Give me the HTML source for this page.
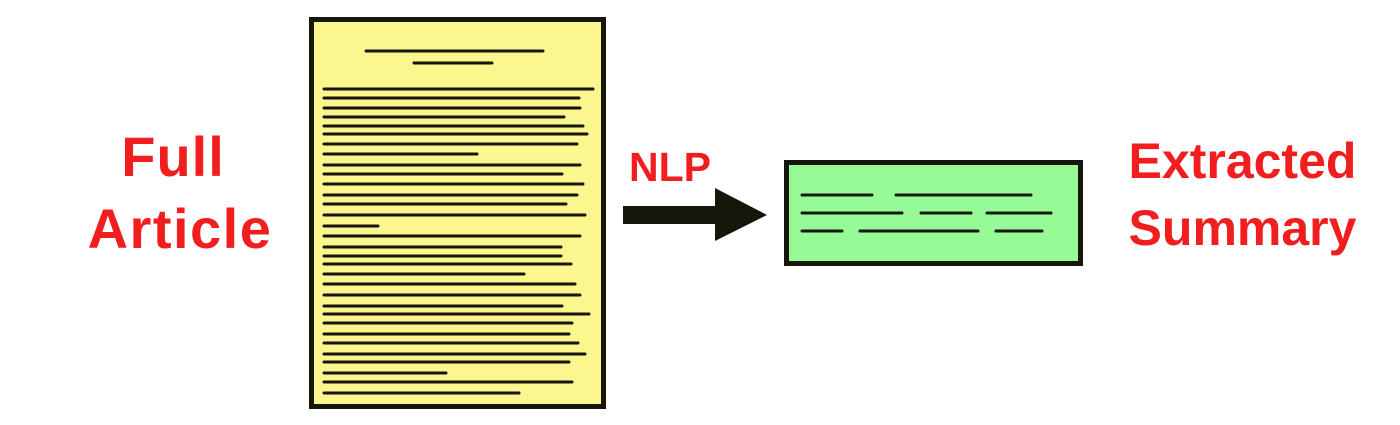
<!DOCTYPE html>
<html><head><style>
html,body{margin:0;padding:0;background:#fff;width:1400px;height:425px;overflow:hidden}
.t{position:absolute;font-family:"Liberation Sans",sans-serif;font-weight:bold;color:#f01e1e;text-align:center;white-space:nowrap;line-height:1}
</style></head><body>
<svg width="1400" height="425" style="position:absolute;left:0;top:0" xmlns="http://www.w3.org/2000/svg">
<rect x="311.5" y="19.5" width="292" height="387" fill="#fbf78e" stroke="#16160c" stroke-width="5"/>
<g stroke="#16160c" stroke-width="3" stroke-linecap="round">
<line x1="366" y1="51" x2="543" y2="51"/>
<line x1="414" y1="63" x2="492" y2="63"/>
<line x1="324" y1="89" x2="593" y2="89"/>
<line x1="324" y1="98" x2="579" y2="98"/>
<line x1="324" y1="108" x2="580" y2="108"/>
<line x1="324" y1="117" x2="564" y2="117"/>
<line x1="324" y1="126" x2="583" y2="126"/>
<line x1="324" y1="134" x2="587" y2="134"/>
<line x1="324" y1="144" x2="577" y2="144"/>
<line x1="324" y1="154" x2="477" y2="154"/>
<line x1="324" y1="165" x2="580" y2="165"/>
<line x1="324" y1="174" x2="562" y2="174"/>
<line x1="324" y1="184" x2="583" y2="184"/>
<line x1="324" y1="195" x2="577" y2="195"/>
<line x1="324" y1="204" x2="566" y2="204"/>
<line x1="324" y1="215" x2="585" y2="215"/>
<line x1="324" y1="226" x2="378" y2="226"/>
<line x1="324" y1="236" x2="580" y2="236"/>
<line x1="324" y1="247" x2="561" y2="247"/>
<line x1="324" y1="256" x2="561" y2="256"/>
<line x1="324" y1="264" x2="571" y2="264"/>
<line x1="324" y1="274" x2="524" y2="274"/>
<line x1="324" y1="284" x2="575" y2="284"/>
<line x1="324" y1="295" x2="580" y2="295"/>
<line x1="324" y1="306" x2="562" y2="306"/>
<line x1="324" y1="314" x2="589" y2="314"/>
<line x1="324" y1="323" x2="572" y2="323"/>
<line x1="324" y1="334" x2="569" y2="334"/>
<line x1="324" y1="343" x2="578" y2="343"/>
<line x1="324" y1="354" x2="585" y2="354"/>
<line x1="324" y1="362" x2="569" y2="362"/>
<line x1="324" y1="373" x2="446" y2="373"/>
<line x1="324" y1="382" x2="572" y2="382"/>
<line x1="324" y1="393" x2="519" y2="393"/>
</g>
<polygon points="623,206 715,206 715,188 767,215 715,241 715,224 623,224" fill="#16160a"/>
<rect x="786.5" y="162.5" width="294" height="101" fill="#96fa96" stroke="#16160c" stroke-width="5"/>
<g stroke="#16160c" stroke-width="3" stroke-linecap="round">
<line x1="802" y1="195" x2="872" y2="195"/>
<line x1="896" y1="195" x2="1031" y2="195"/>
<line x1="802" y1="213" x2="902" y2="213"/>
<line x1="921" y1="213" x2="971" y2="213"/>
<line x1="987" y1="213" x2="1051" y2="213"/>
<line x1="802" y1="231" x2="842" y2="231"/>
<line x1="860" y1="231" x2="978" y2="231"/>
<line x1="996" y1="231" x2="1042" y2="231"/>
</g>
</svg>
<div class="t" style="left:53px;width:240px;top:129px;font-size:56px;letter-spacing:1px">Full</div>
<div class="t" style="left:60px;width:240px;top:201px;font-size:56px;letter-spacing:1.5px">Article</div>
<div class="t" style="left:610px;width:120px;top:147px;font-size:41px">NLP</div>
<div class="t" style="left:1110px;width:265px;top:136px;font-size:50px">Extracted</div>
<div class="t" style="left:1110px;width:265px;top:203px;font-size:50px">Summary</div>
</body></html>
